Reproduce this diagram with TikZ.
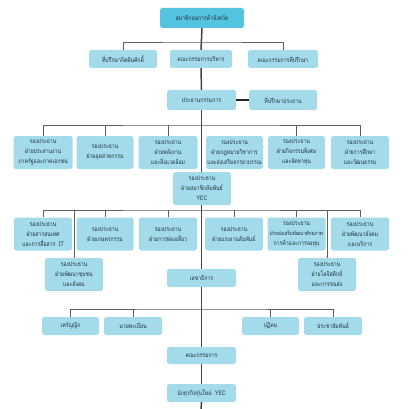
\documentclass[tikz,border=0pt]{standalone}
\usepackage{fontspec}
\newfontfamily\thaifont[Script=Thai,FakeStretch=0.82]{Loma}
\definecolor{boxblue}{HTML}{A3DBEA}
\definecolor{topblue}{HTML}{52C4DD}
\definecolor{txt}{HTML}{22303E}
\definecolor{trunkc}{HTML}{444444}
\definecolor{branchc}{HTML}{5E5E5E}
\tikzset{
  orgbox/.style={fill=boxblue, rounded corners=2.5pt, text=txt, align=center,
    inner sep=0pt, font=\thaifont\fontsize{6.3}{10}\selectfont, minimum width=58pt, minimum height=18pt},
  tallbox/.style={orgbox, minimum height=33pt},
  topbox/.style={orgbox, fill=topblue, minimum width=84pt, minimum height=20pt},
  trunk/.style={draw=trunkc, line width=1.5pt},
  branch/.style={draw=branchc, line width=0.9pt},
  link/.style={draw=black!85, line width=1.8pt}
}
\begin{document}
\begin{tikzpicture}[x=1pt,y=-1pt]
\useasboundingbox[fill=white] (0,0) rectangle (409,409);

% nodes
\node[topbox] (top) at (202,18) {สมาชิกหอการค้าจังหวัด};
\node[orgbox, minimum width=68pt] (r2a) at (123,59) {ที่ปรึกษากิตติมศักดิ์};
\node[orgbox, minimum width=62pt] (r2b) at (201,59) {คณะกรรมการบริหาร};
\node[orgbox, minimum width=70pt] (r2c) at (283,59) {คณะกรรมการที่ปรึกษา};
\node[orgbox, minimum width=69pt, minimum height=20pt] (chair) at (201.5,100) {ประธานกรรมการ};
\node[orgbox, minimum width=68pt, minimum height=20pt] (adv) at (283,100) {ที่ปรึกษาประธาน};

\node[tallbox, minimum width=59pt] (r4a) at (43,152.5) {รองประธาน\\ฝ่ายประสานงาน\\ภาครัฐและภาคเอกชน};
\node[tallbox, minimum width=57pt] (r4b) at (105,152.5) {รองประธาน\\ฝ่ายอุตสาหกรรม};
\node[tallbox, minimum width=59pt] (r4c) at (168,152.5) {รองประธาน\\ฝ่ายพลังงาน\\และสิ่งแวดล้อม};
\node[tallbox, minimum width=57pt] (r4d) at (234.5,152.5) {รองประธาน\\ฝ่ายกฎหมายวิชาการ\\และส่งเสริมจรรยาบรรณ};
\node[tallbox, minimum width=57pt] (r4e) at (296.5,152.5) {รองประธาน\\ฝ่ายกิจกรรมพิเศษ\\และจัดหาทุน};
\node[tallbox, minimum width=58pt] (r4f) at (360,152.5) {รองประธาน\\ฝ่ายการศึกษา\\และวัฒนธรรม};

\node[tallbox] (mem) at (202,188.5) {รองประธาน\\ฝ่ายสมาชิกสัมพันธ์\\YEC};

\node[tallbox, minimum width=58pt] (r5a) at (43,234) {รองประธาน\\ฝ่ายสารสนเทศ\\และการสื่อสาร\ \ IT};
\node[tallbox, minimum width=57pt] (r5b) at (105,234) {รองประธาน\\ฝ่ายเกษตรกรรม};
\node[tallbox, minimum width=58pt] (r5c) at (168,234) {รองประธาน\\ฝ่ายการท่องเที่ยว};
\node[tallbox, minimum width=58pt] (r5d) at (234,234) {รองประธาน\\ฝ่ายแรงงานสัมพันธ์};
\node[tallbox, minimum width=58pt] (r5e) at (296.5,234) {รองประธาน\\{\fontsize{5.6}{10}\selectfont ฝ่ายส่งเสริมพัฒนาศักยภาพ}\\การค้าและการลงทุน};
\node[tallbox, minimum width=58pt] (r5f) at (360,234) {รองประธาน\\ฝ่ายพัฒนาสังคม\\และบริการ};

\node[tallbox] (comm) at (74,274.5) {รองประธาน\\ฝ่ายพัฒนาชุมชน\\และสังคม};
\node[tallbox] (logi) at (327,274.5) {รองประธาน\\ฝ่ายโลจิสติกส์\\และการขนส่ง};

\node[orgbox, minimum width=69pt] (sec) at (201.5,278) {เลขาธิการ};
\node[orgbox, minimum width=57pt] (treas) at (70.5,326) {เหรัญญิก};
\node[orgbox] (reg) at (133,326) {นายทะเบียน};
\node[orgbox, minimum width=57pt] (host) at (270.5,326) {ปฏิคม};
\node[orgbox] (pr) at (333,326) {ประชาสัมพันธ์};
\node[orgbox, minimum width=69pt, minimum height=17pt] (cmte) at (201.5,355.5) {คณะกรรมการ};
\node[orgbox, minimum width=69pt] (yec) at (201.5,393) {นักธุรกิจรุ่นใหม่\ \ YEC};

% bus coordinates
\coordinate (bus2) at (201,42);
\coordinate (bus4) at (201,125);
\coordinate (bus5) at (201,210);
\coordinate (bus7) at (201,309);
\coordinate (bottom) at (201,409);

% trunk
\draw[trunk] (top.south) -- (r2b.north);
\draw[trunk] (r2b.south) -- (chair.north);
\draw[trunk] (chair.south) -- (mem.north -| chair.south);
\draw[trunk] (mem.south -| sec.north) -- (sec.north);
\draw[trunk] (sec.south) -- (cmte.north);
\draw[trunk] (cmte.south) -- (yec.north);
\draw[trunk] (yec.south) -- (bottom);
\draw[link] (chair.east) -- (adv.west);

% row 2
\draw[branch] (r2a.north) |- (bus2) -| (r2c.north);
% row 4
\draw[branch] (r4a.north) |- (bus4) -| (r4f.north);
\draw[branch] (r4b.north) -- (r4b.north |- bus4);
\draw[branch] (r4c.north) -- (r4c.north |- bus4);
\draw[branch] (r4e.north) -- (r4e.north |- bus4);
% row 5
\draw[branch] (r5a.north) |- (bus5) -| (r5f.north);
\draw[branch] (r5b.north) -- (r5b.north |- bus5);
\draw[branch] (r5c.north) -- (r5c.north |- bus5);
\draw[branch] (r5d.north) -- (r5d.north |- bus5);
\draw[branch] (r5e.north) -- (r5e.north |- bus5);
\draw[branch] (comm.north) -- (comm.north |- bus5);
\draw[branch] (logi.north) -- (logi.north |- bus5);
% row 7
\draw[branch] (treas.north) |- (bus7) -| (pr.north);
\draw[branch] (reg.north) -- (reg.north |- bus7);
\draw[branch] (host.north) -- (host.north |- bus7);
\end{tikzpicture}
\end{document}
